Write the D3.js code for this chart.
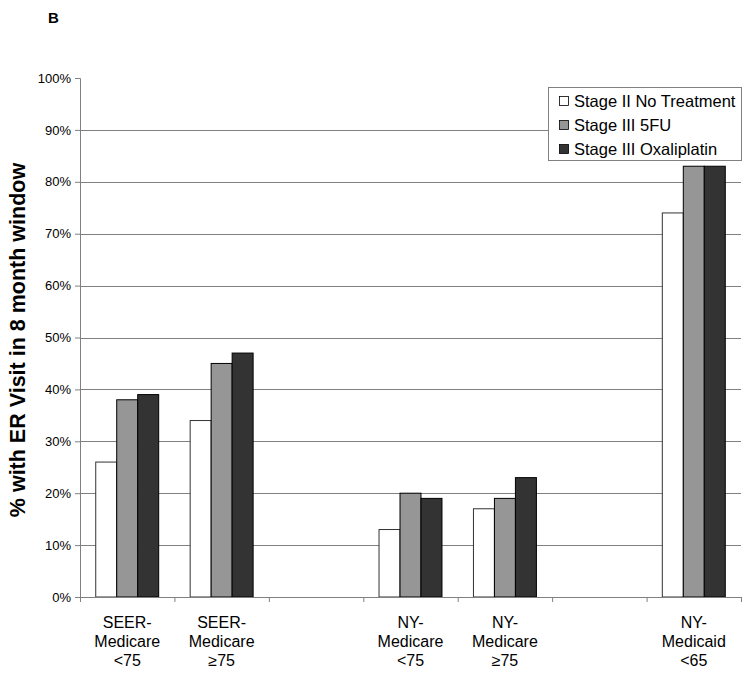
<!DOCTYPE html>
<html><head><meta charset="utf-8">
<script src="https://cdn.jsdelivr.net/npm/d3@7"></script>
<style>body{margin:0;background:#fff;} text{font-family:"Liberation Sans",Arial,sans-serif;}</style>
</head><body>
<svg id="c" width="750" height="673"></svg>
<script>
const categories = [
  ["SEER-","Medicare","<75"],
  ["SEER-","Medicare","≥75"],
  null,
  ["NY-","Medicare","<75"],
  ["NY-","Medicare","≥75"],
  null,
  ["NY-","Medicaid","<65"]
];
const series = ["Stage II No Treatment","Stage III 5FU","Stage III Oxaliplatin"];
const noTreatment = [26, 34, null, 13, 17, null, 74];
const fu5 =         [38, 45, null, 20, 19, null, 83];
const oxali =       [39, 47, null, 19, 23, null, 83];
const yTicks = [0,10,20,30,40,50,60,70,80,90,100];
const colors = ["#ffffff","#969696","#333333"];

const svg = d3.select("#c");
const L = 80, R = 741, T = 78, B = 597;
const x = d3.scaleBand().domain(d3.range(categories.length)).range([L, R]).paddingInner(0).paddingOuter(0);
const y = d3.scaleLinear().domain([0,100]).range([B, T]);
const bw = x.bandwidth()/4.5;

svg.append("text").attr("x",48).attr("y",23).attr("font-weight","bold").attr("font-size",15).text("B");

// gridlines
svg.append("g").selectAll("line").data(yTicks.filter(d=>d>0 && d<100)).join("line")
  .attr("x1",L).attr("x2",R).attr("y1",d=>Math.round(y(d))+0.5).attr("y2",d=>Math.round(y(d))+0.5)
  .attr("stroke","#808080").attr("stroke-width",1);

// y axis
const ya = d3.axisLeft(y).tickValues(yTicks).tickFormat(d=>d+"%").tickSize(5).tickPadding(4);
const gy = svg.append("g").attr("transform",`translate(${L},0)`).call(ya);
gy.select(".domain").attr("stroke","#808080");
gy.selectAll(".tick line").attr("stroke","#808080");
gy.selectAll("text").attr("font-size",13).attr("fill","#000").attr("font-family","Liberation Sans, Arial, sans-serif");

// bars
const data = [noTreatment, fu5, oxali];
data.forEach((vals, s) => {
  svg.append("g").selectAll("rect").data(vals.map((v,i)=>({v,i})).filter(d=>d.v!=null)).join("rect")
    .attr("x", d => x(d.i) + 0.75*bw + s*bw)
    .attr("width", bw)
    .attr("y", d => y(d.v))
    .attr("height", d => B - y(d.v))
    .attr("fill", colors[s]).attr("stroke", s===0 ? "#333" : "#000").attr("stroke-width",1);
});

// x axis
const xa = d3.axisBottom(d3.scaleLinear().domain([0,categories.length]).range([L,R]))
  .tickValues(d3.range(categories.length+1)).tickFormat("").tickSize(5);
const gx = svg.append("g").attr("transform",`translate(0,${B})`).call(xa);
gx.select(".domain").attr("stroke","#808080");
gx.selectAll(".tick line").attr("stroke","#808080");

// category labels
categories.forEach((c,i)=>{
  if(!c) return;
  const cx = x(i)+x.bandwidth()/2;
  const t = svg.append("text").attr("text-anchor","middle").attr("font-size",16)
    .attr("x", cx).attr("y",628);
  c.forEach((line,k)=> t.append("tspan").attr("x", cx).attr("dy", k===0?0:19).text(line));
});

// y label
svg.append("text").attr("transform",`translate(25,${340}) rotate(-90)`)
  .attr("text-anchor","middle").attr("font-weight","bold").attr("font-size",21.5)
  .text("% with ER Visit in 8 month window");

// legend
const lg = svg.append("g");
lg.append("rect").attr("x",548.5).attr("y",87.5).attr("width",193).attr("height",73)
  .attr("fill","#fff").attr("stroke","#808080");
series.forEach((s,i)=>{
  const cy = 101 + i*24;
  lg.append("rect").attr("x",559.5).attr("y",cy-4.5).attr("width",9).attr("height",9)
    .attr("fill",colors[i]).attr("stroke","#000").attr("stroke-width",0.8);
  lg.append("text").attr("x",574).attr("y",cy+6).attr("font-size",16.5).text(s);
});
</script>
</body></html>
